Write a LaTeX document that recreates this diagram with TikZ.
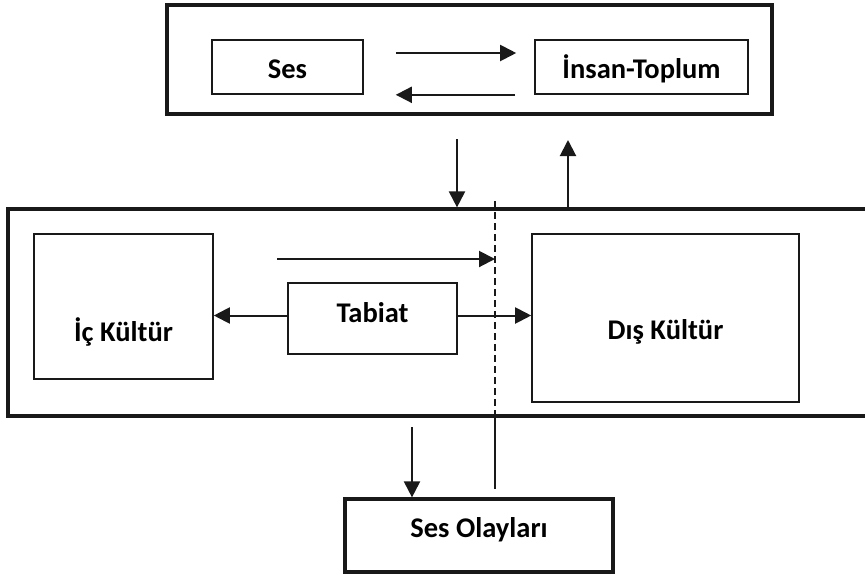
\documentclass[tikz,border=0pt]{standalone}
\usepackage{fontspec}
\setmainfont{Carlito}
\usetikzlibrary{arrows.meta}
\newcommand{\lowtxt}[2]{\raisebox{-#1pt}[0pt][0pt]{#2}}
\begin{document}
\begin{tikzpicture}[x=1pt,y=-1pt,
  thickbox/.style={draw=black!90,line width=3.2pt,inner sep=0pt},
  thinbox/.style={draw=black!90,line width=1.6pt,inner sep=0pt,font=\fontsize{28.5}{34}\selectfont\bfseries},
  arr/.style={draw=black!90,line width=2pt,-{Triangle[length=16pt,width=16pt]}}]
\useasboundingbox (0,0) rectangle (865,574);
\node[thickbox,minimum width=605pt,minimum height=109pt] (top) at (469.5,59.5) {};
\node[thinbox,minimum width=151pt,minimum height=54pt] (ses) at (287.5,67) {\lowtxt{11}{Ses}};
\node[thinbox,minimum width=213pt,minimum height=54pt] (ins) at (641.5,67) {\lowtxt{11}{İnsan-Toplum}};
\node[thickbox,minimum width=900pt,minimum height=207pt] (mid) at (458,312.5) {};
\node[thinbox,minimum width=179pt,minimum height=145pt] (ic) at (123.5,306.5) {\lowtxt{34.5}{İç Kültür}};
\node[thinbox,minimum width=169pt,minimum height=71pt] (tab) at (372.5,318.5) {\lowtxt{4}{Tabiat}};
\node[thinbox,minimum width=267pt,minimum height=168pt] (dis) at (665.5,318) {\lowtxt{21}{Dış Kültür}};
\node[thickbox,minimum width=268pt,minimum height=73pt,font=\fontsize{28.5}{34}\selectfont\bfseries] (so) at (479,535.5) {\lowtxt{2}{Ses Olayları}};
\coordinate (dn) at (457,139);
\coordinate (up) at (568,140);
\coordinate (dash) at (495,201);
\coordinate (a1) at (277,259);
\coordinate (d2) at (412,427);
\coordinate (dashend) at (495,489);
% top arrows
\draw[arr] ([xshift=32pt,yshift=14pt]ses.east) -- ([xshift=-18pt,yshift=14pt]ins.west);
\draw[arr] ([xshift=-19pt]ins.south west) -- ([xshift=32pt]ses.south east);
% between boxes
\draw[arr] (dn) -- (dn |- mid.north);
\draw[arr] (up |- mid.north) -- (up);
% dashed divider
\draw[black!90,line width=1.5pt,dash pattern=on 7pt off 4pt] (dash) -- (dash |- mid.south);
\draw[black!90,line width=1.5pt] (dash |- mid.south) -- (dashend);
% middle arrows
\draw[arr] (a1) -- (a1 -| dash);
\draw[arr] ([yshift=3pt]tab.west) -- ([yshift=3pt]tab.west -| ic.east);
\draw[arr] ([yshift=3pt]tab.east) -- ([yshift=3pt]tab.east -| dis.west);
% down to Ses Olaylari
\draw[arr] (d2) -- (d2 |- so.north);
\end{tikzpicture}
\end{document}
